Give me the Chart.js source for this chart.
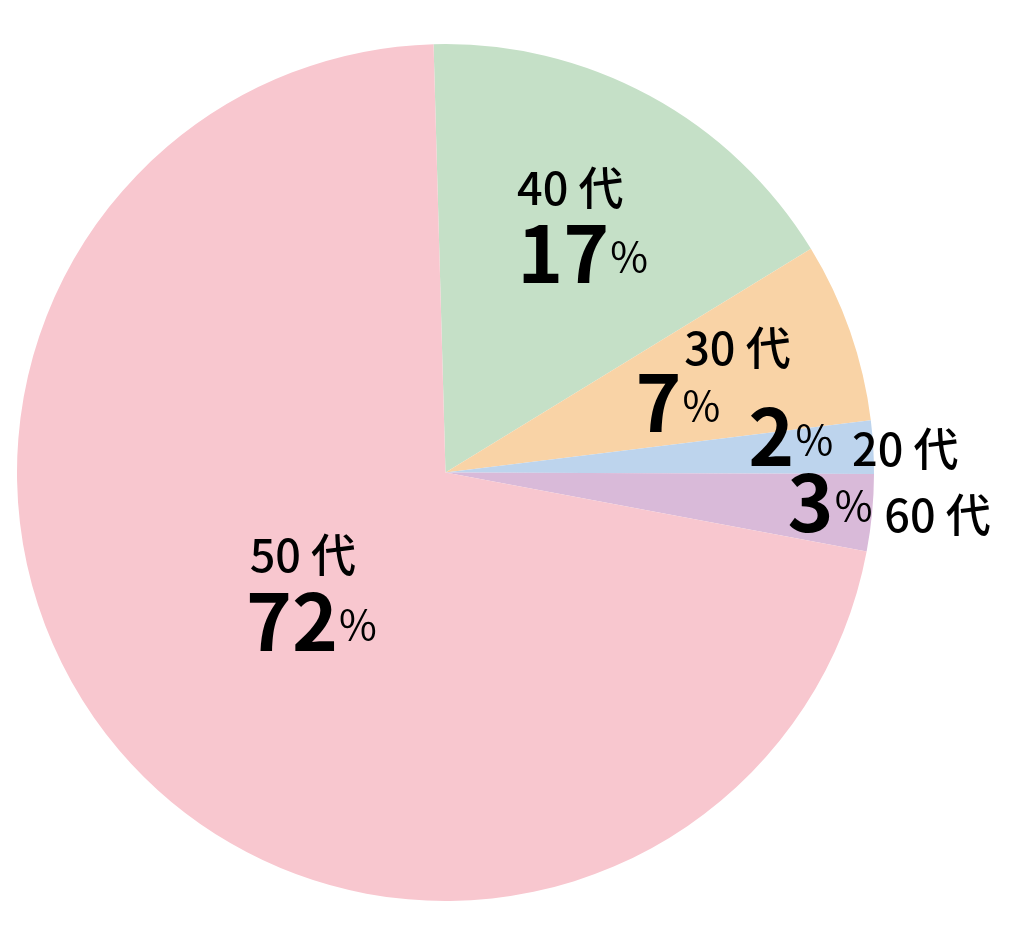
<!DOCTYPE html>
<html lang="ja">
<head>
<meta charset="utf-8">
<title>年代別 割合</title>
<script src="https://cdn.jsdelivr.net/npm/chart.js@4.4.1/dist/chart.umd.min.js"></script>
<style>
  html, body { margin: 0; padding: 0; background: #fff; }
  #wrap { width: 1024px; height: 946px; }
</style>
</head>
<body>
<div id="wrap"><canvas id="ageChart" width="1024" height="946"></canvas></div>
<script>
// data (clockwise from the top)
const categories = ['40 代', '30 代', '20 代', '60 代', '50 代'];
const shares = [16.7, 6.8, 2.0, 2.9, 71.6];
const percentLabels = ['17', '7', '2', '3', '72'];
const sliceColors = ['#c5e0c7', '#f9d3a6', '#bdd4ed', '#d9bad9', '#f8c7cf'];

// where each label sits relative to a point at 64% of the radius on the slice mid-angle
const labelLayout = [
  { name: [-6, -26], pct: [6, 52] },
  { name: [33, -17], pct: [-27, 50] },
  { name: [186, 10], pct: [71, 10] },
  { name: [219, 34], pct: [111, 34] },
  { name: [66, -79], pct: [74, 0] }
];

const FONT = '"Noto Sans CJK JP", "Noto Sans", sans-serif';

const sliceLabels = {
  id: 'sliceLabels',
  afterDatasetsDraw(chart) {
    const ctx = chart.ctx;
    const arcs = chart.getDatasetMeta(0).data;
    ctx.save();
    ctx.fillStyle = '#000';
    ctx.textBaseline = 'alphabetic';
    arcs.forEach((arc, i) => {
      const p = arc.getProps(['x', 'y', 'startAngle', 'endAngle', 'outerRadius'], true);
      const mid = (p.startAngle + p.endAngle) / 2;
      const r = p.outerRadius * 0.64;
      const ax = p.x + Math.cos(mid) * r;
      const ay = p.y + Math.sin(mid) * r;
      const lay = labelLayout[i];

      // category name
      ctx.font = '500 45px ' + FONT;
      ctx.textAlign = 'center';
      ctx.fillText(categories[i], ax + lay.name[0], ay + lay.name[1]);

      // big number + small %
      ctx.font = 'bold 78px ' + FONT;
      const wNum = ctx.measureText(percentLabels[i]).width;
      ctx.font = '400 41px ' + FONT;
      const wPct = ctx.measureText('%').width;
      const left = ax + lay.pct[0] - (wNum + wPct) / 2;
      const base = ay + lay.pct[1];
      ctx.textAlign = 'left';
      ctx.font = 'bold 78px ' + FONT;
      ctx.fillText(percentLabels[i], left, base);
      ctx.font = '400 41px ' + FONT;
      ctx.fillText('%', left + wNum + 1, base - 11);
    });
    ctx.restore();
  }
};

new Chart(document.getElementById('ageChart'), {
  type: 'pie',
  data: {
    labels: categories,
    datasets: [{
      data: shares,
      backgroundColor: sliceColors,
      borderWidth: 0
    }]
  },
  options: {
    responsive: false,
    animation: false,
    rotation: -1.6,
    layout: { padding: { left: 17, right: 150, top: 44, bottom: 45 } },
    plugins: {
      legend: { display: false },
      tooltip: { enabled: false }
    }
  },
  plugins: [sliceLabels]
});
</script>
</body>
</html>
